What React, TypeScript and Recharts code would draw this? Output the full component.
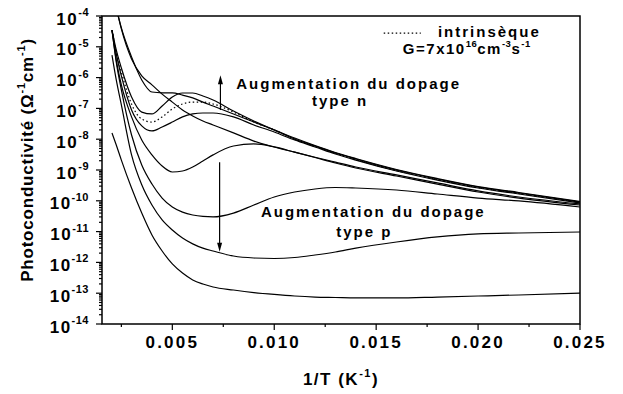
import React from 'react';
import { LineChart, Line, XAxis, YAxis, ReferenceLine, ReferenceDot, ReferenceArea } from 'recharts';

// 1/T (K^-1) grid shared by all curves
const invT = [0.00204, 0.00225, 0.0025, 0.003, 0.0035, 0.004, 0.0045, 0.005, 0.0055, 0.006, 0.0065, 0.007, 0.008, 0.009, 0.010, 0.011, 0.012, 0.013, 0.014, 0.016, 0.018, 0.020, 0.022, 0.025];

// photoconductivity (ohm^-1 cm^-1)
const nShoulder = [null, 1.8e-4, 4.1e-5, 4.7e-6, 8.4e-7, 3.4e-7, 3.2e-7, 3.2e-7, 2.7e-7, 2.2e-7, 1.6e-7, 1.2e-7, 6.6e-8, 3.6e-8, 2.0e-8, 1.09e-8, 6.2e-9, 3.7e-9, 2.36e-9, 1.04e-9, 5.3e-10, 2.9e-10, 1.86e-10, 9.5e-11];
const nMonotonic = [null, 1.9e-4, 3.8e-5, 4.0e-6, 1.13e-6, 5.8e-7, 2.9e-7, 1.6e-7, 8.9e-8, 5.7e-8, 3.9e-8, 2.9e-8, 1.6e-8, 8.7e-9, 5.6e-9, 3.8e-9, 2.6e-9, 1.8e-9, 1.25e-9, 6.9e-10, 3.8e-10, 2.1e-10, 1.33e-10, 7.9e-11];
const nBump = [3.5e-5, 7.9e-6, 2.05e-6, 2.35e-7, 7.6e-8, 6.6e-8, 1.2e-7, 2.35e-7, 3.16e-7, 3.16e-7, 2.53e-7, 1.87e-7, 8.2e-8, 3.9e-8, 2.0e-8, 1.01e-8, 6.0e-9, 3.56e-9, 2.28e-9, 1.0e-9, 5.1e-10, 2.81e-10, 1.79e-10, 9.1e-11];
const intrinsic = [3.5e-5, 6.8e-6, 1.52e-6, 1.39e-7, 4.5e-8, 3.6e-8, 5.3e-8, 9.6e-8, 1.39e-7, 1.61e-7, 1.61e-7, 1.39e-7, 7.6e-8, 3.6e-8, 2.0e-8, 1.01e-8, 5.8e-9, 3.56e-9, 2.19e-9, 9.6e-10, 4.9e-10, 2.7e-10, 1.73e-10, 9.1e-11];
const p1 = [3.5e-5, 5.8e-6, 1.13e-6, 8.9e-8, 2.7e-8, 1.85e-8, 2.5e-8, 3.6e-8, 5.3e-8, 6.6e-8, 7.1e-8, 7.1e-8, 5.3e-8, 2.9e-8, 1.71e-8, 9.4e-9, 5.6e-9, 3.3e-9, 2.1e-9, 9.3e-10, 4.7e-10, 2.6e-10, 1.66e-10, 8.5e-11];
const p2 = [3.5e-5, 3.7e-6, 5.8e-7, 5.3e-8, 9.4e-9, 3.1e-9, 1.35e-9, 8.6e-10, 9.3e-10, 1.25e-9, 1.96e-9, 3.1e-9, 6.0e-9, 7.0e-9, 5.6e-9, 3.8e-9, 2.55e-9, 1.69e-9, 1.16e-9, 6.4e-10, 3.5e-10, 1.93e-10, 1.23e-10, 7.3e-11];
const p3 = [3.5e-5, 3.2e-6, 4.0e-7, 1.37e-8, 1.45e-9, 3.5e-10, 1.23e-10, 6.3e-11, 4.3e-11, 3.46e-11, 3.1e-11, 3.0e-11, 4.0e-11, 7.3e-11, 1.33e-10, 1.93e-10, 2.42e-10, 2.7e-10, 2.6e-10, 2.24e-10, 1.66e-10, 1.23e-10, 9.9e-11, 6.3e-11];
const p4 = [5.4e-6, 8.4e-7, 1.29e-7, 3.1e-9, 3.3e-10, 7.3e-11, 2.4e-11, 1.13e-11, 6.2e-12, 4.0e-12, 2.9e-12, 2.35e-12, 1.61e-12, 1.39e-12, 1.34e-12, 1.44e-12, 1.74e-12, 2.18e-12, 2.9e-12, 4.6e-12, 6.7e-12, 8.4e-12, 9.0e-12, 9.7e-12];
const p5 = [1.59e-8, 6.5e-9, 2.1e-9, 2.6e-10, 4.0e-11, 7.8e-12, 2.35e-12, 8.9e-13, 4.5e-13, 2.7e-13, 1.99e-13, 1.59e-13, 1.27e-13, 1.05e-13, 9.1e-14, 8.1e-14, 7.5e-14, 7.25e-14, 7.0e-14, 7.0e-14, 7.5e-14, 8.1e-14, 8.75e-14, 1.01e-13];

// axis ticks
const xMajorTicks = [0.005, 0.010, 0.015, 0.020, 0.025];
const xTickLabels = ['0.005', '0.010', '0.015', '0.020', '0.025'];
const xMinorTicks = [0.0025, 0.0075, 0.0125, 0.0175, 0.0225];
const yExponents = [-14, -13, -12, -11, -10, -9, -8, -7, -6, -5, -4];
const yMinorMultipliers = [2, 3, 4, 5, 6, 7, 8, 9];

const X_DOMAIN = [0.00155, 0.025];
const Y_DOMAIN = [1e-14, 1e-4];

const rows = invT.map((x, i) => ({
  x,
  s: nShoulder[i], m: nMonotonic[i], b1: nBump[i], intr: intrinsic[i],
  p1: p1[i], p2: p2[i], p3: p3[i], p4: p4[i], p5: p5[i],
}));

const xTicks = [...xMajorTicks, ...xMinorTicks].sort((a, b) => a - b);
const yTicks: number[] = [];
yExponents.forEach((e) => {
  yTicks.push(Math.pow(10, e));
  if (e < -4) yMinorMultipliers.forEach((k) => yTicks.push(k * Math.pow(10, e)));
});

const FONT = '"Liberation Sans", Arial, Helvetica, sans-serif';

const YTick = (props: any) => {
  const { x, y, payload } = props;
  const v = payload.value;
  const lg = Math.log10(v);
  const major = Math.abs(lg - Math.round(lg)) < 1e-6;
  return (
    <g>
      <line x1={x} x2={x - (major ? 6 : 3)} y1={y} y2={y} stroke="#000" strokeWidth={1.2} />
      {major && (
        <text x={x - 13} y={y + 8.5} textAnchor="end" fontFamily={FONT} fontWeight="bold" fontSize={17} letterSpacing={1.5} fill="#000">
          10<tspan dy={-8.5} fontSize={11} letterSpacing={0.5}>{String(Math.round(lg))}</tspan>
        </text>
      )}
    </g>
  );
};

const XTick = (props: any) => {
  const { x, y, payload } = props;
  const v = payload.value;
  const idx = xMajorTicks.findIndex((t) => Math.abs(t - v) < 1e-9);
  const major = idx >= 0;
  return (
    <g>
      <line x1={x} x2={x} y1={y} y2={y + (major ? 6 : 3)} stroke="#000" strokeWidth={1.2} />
      {major && (
        <text x={x} y={y + 24} textAnchor="middle" fontFamily={FONT} fontWeight="bold" fontSize={17} letterSpacing={2.2} fill="#000">
          {xTickLabels[idx]}
        </text>
      )}
    </g>
  );
};

const Arrow = (p: any) => {
  const { x1, y1, x2, y2 } = p;
  const dir = y2 < y1 ? 1 : -1;
  return (
    <g>
      <line x1={x1} y1={y1} x2={x2} y2={y2 + dir * 6} stroke="#000" strokeWidth={1.2} />
      <polygon points={`${x2},${y2} ${x2 - 2.5},${y2 + dir * 9} ${x2 + 2.5},${y2 + dir * 9}`} fill="#000" />
    </g>
  );
};

const TextAt = (content: React.ReactNode, anchor: string, size = 15, ls = 2) => (p: any) => (
  <text x={p.cx} y={p.cy} textAnchor={anchor} fontFamily={FONT} fontWeight="bold" fontSize={size} letterSpacing={ls} fill="#000">
    {content}
  </text>
);

const lineProps = {
  type: 'monotone' as const,
  stroke: '#000',
  strokeWidth: 1.2,
  dot: false,
  activeDot: false,
  isAnimationActive: false,
  connectNulls: false,
};

export default function App() {
  return (
    <div style={{ position: 'absolute', left: 0, top: 0, width: 623, height: 394, background: '#fff' }}>
      <LineChart width={623} height={394} data={rows} margin={{ top: 16, right: 43, bottom: 30, left: 0 }}>
        <XAxis dataKey="x" type="number" domain={X_DOMAIN} allowDataOverflow ticks={xTicks} interval={0}
          tick={XTick} tickLine={false} axisLine={false} tickSize={0} tickMargin={0} height={40} />
        <YAxis type="number" scale="log" domain={Y_DOMAIN} allowDataOverflow ticks={yTicks} interval={0}
          tick={YTick} tickLine={false} axisLine={false} tickSize={0} tickMargin={0} width={102} />
        <Line dataKey="s" {...lineProps} />
        <Line dataKey="m" {...lineProps} />
        <Line dataKey="b1" {...lineProps} />
        <Line dataKey="intr" {...lineProps} strokeDasharray="1.5 2.5" />
        <Line dataKey="p1" {...lineProps} />
        <Line dataKey="p2" {...lineProps} />
        <Line dataKey="p3" {...lineProps} />
        <Line dataKey="p4" {...lineProps} />
        <Line dataKey="p5" {...lineProps} />
        <ReferenceArea x1={X_DOMAIN[0]} x2={X_DOMAIN[1]} y1={Y_DOMAIN[0]} y2={Y_DOMAIN[1]} fill="none" fillOpacity={0} stroke="#000" strokeWidth={1.5} ifOverflow="visible" />
        <ReferenceLine segment={[{ x: 0.00736, y: 8.9e-8 }, { x: 0.00736, y: 1.2e-6 }]} shape={Arrow} ifOverflow="visible" />
        <ReferenceLine segment={[{ x: 0.00732, y: 1.8e-9 }, { x: 0.00732, y: 2.2e-12 }]} shape={Arrow} ifOverflow="visible" />
        <ReferenceLine segment={[{ x: 0.01537, y: 2.8e-5 }, { x: 0.01719, y: 2.8e-5 }]} stroke="#000" strokeWidth={1.2} strokeDasharray="1.5 2.5" ifOverflow="visible" />
        <ReferenceDot x={0.01803} y={2.09e-5} r={0} ifOverflow="visible" shape={TextAt('intrinsèque', 'start', 15, 2)} />
        <ReferenceDot x={0.01631} y={5.9e-6} r={0} ifOverflow="visible" shape={TextAt(
          <>G=7x10<tspan dy={-6.5} fontSize={9.5} letterSpacing={0.5}>16</tspan><tspan dy={6.5}>cm</tspan><tspan dy={-6.5} fontSize={9.5} letterSpacing={0.5}>-3</tspan><tspan dy={6.5}>s</tspan><tspan dy={-6.5} fontSize={9.5} letterSpacing={0.5}>-1</tspan></>,
          'start', 15, 1.5)} />
        <ReferenceDot x={0.01365} y={4.27e-7} r={0} ifOverflow="visible" shape={TextAt('Augmentation du dopage', 'middle')} />
        <ReferenceDot x={0.01323} y={1.2e-7} r={0} ifOverflow="visible" shape={TextAt('type n', 'middle')} />
        <ReferenceDot x={0.01486} y={2.98e-11} r={0} ifOverflow="visible" shape={TextAt('Augmentation du dopage', 'middle')} />
        <ReferenceDot x={0.01442} y={6.7e-12} r={0} ifOverflow="visible" shape={TextAt('type p', 'middle')} />
      </LineChart>
      <svg width={623} height={394} style={{ position: 'absolute', left: 0, top: 0, pointerEvents: 'none' }}>
        <text x={341} y={385} textAnchor="middle" fontFamily={FONT} fontWeight="bold" fontSize={17} letterSpacing={1.5} fill="#000">
          1/T (K<tspan dy={-8} fontSize={11}>-1</tspan><tspan dy={8}>)</tspan>
        </text>
        <text transform="translate(33,160) rotate(-90)" x={0} y={0} textAnchor="middle" fontFamily={FONT} fontWeight="bold" fontSize={17} letterSpacing={0.8} fill="#000">
          Photoconductivité (Ω<tspan dy={-8} fontSize={11}>-1</tspan><tspan dy={8}>cm</tspan><tspan dy={-8} fontSize={11}>-1</tspan><tspan dy={8}>)</tspan>
        </text>
      </svg>
    </div>
  );
}
